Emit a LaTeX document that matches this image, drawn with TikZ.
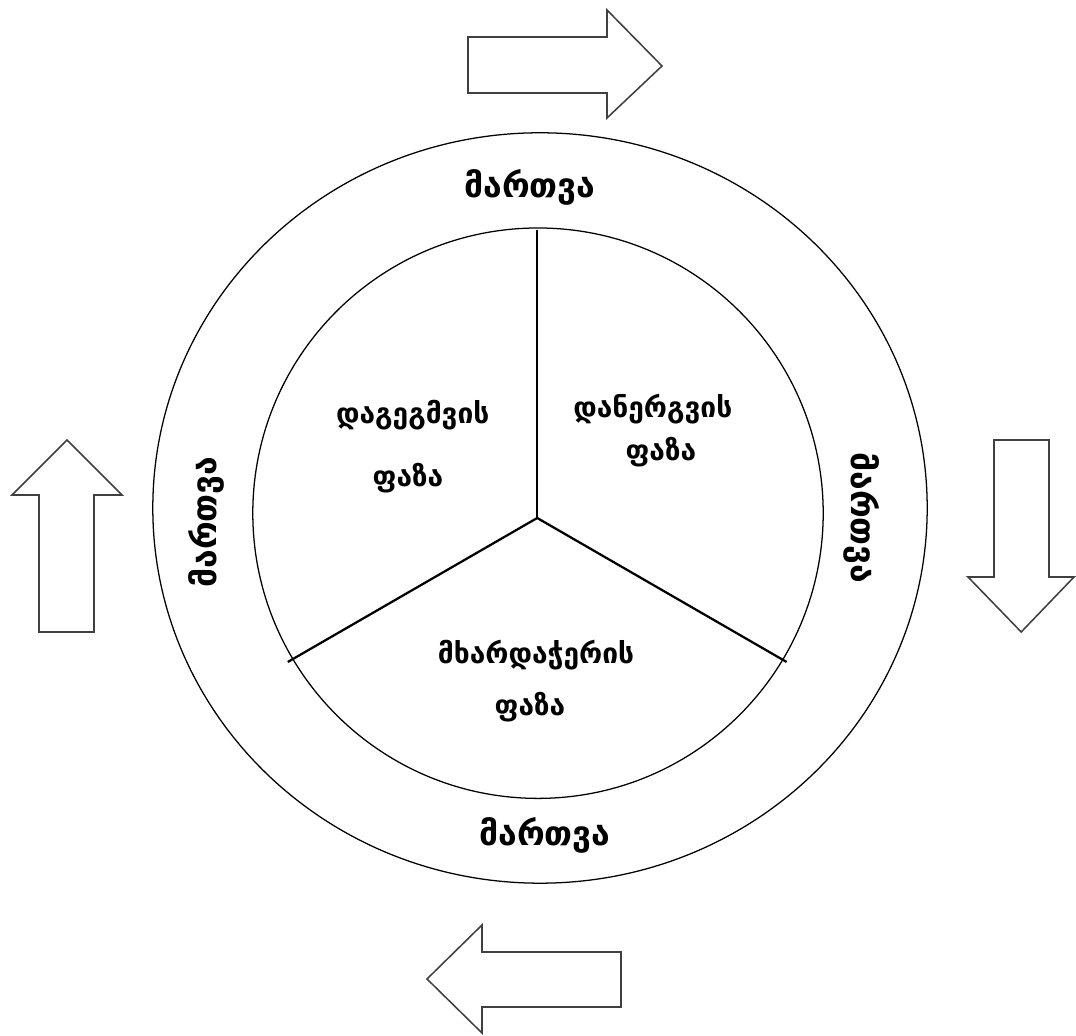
\documentclass[tikz,border=0pt]{standalone}
\usepackage{fontspec}
\setmainfont{DejaVu Sans}
\usepackage{tikz}
\usetikzlibrary{calc}

\begin{document}
\begin{tikzpicture}[
    rim/.style={draw, line width=.9pt},
    spoke/.style={draw, line width=1.6pt},
    hollowarrow/.style={draw=black!75, line width=1.1pt, line join=miter, fill=white},
    manage/.style={font=\bfseries\fontsize{24}{30}\selectfont, inner sep=0pt},
    phase/.style={font=\bfseries\fontsize{20}{24}\selectfont, inner sep=0pt}]
  \useasboundingbox (0, 0) rectangle (26.9, 25.9);
  % rings
  \draw [rim] (13.5, 13.2) ellipse [x radius=9.68, y radius=9.38];
  \draw [rim] (13.45, 13.07) circle [radius=7.13];
  % spokes
  \coordinate (hub) at (13.43, 12.95);
  \coordinate (up) at ($(hub) + (90:7.2)$);
  \coordinate (lw) at ($(hub) + (210:7.2)$);
  \coordinate (rw) at ($(hub) + (330:7.2)$);
  \draw [spoke] (hub) -- (up);
  \draw [spoke] (hub) -- (lw);
  \draw [spoke] (hub) -- (rw);
  % labels
  \node [manage] (mtop) at (13.25, 21.22) {მართვა};
  \node [manage] (mbot) at (13.62, 5.02) {მართვა};
  \node [manage, rotate=90] (mleft) at (5.17, 12.85) {მართვა};
  \node [manage, rotate=-90] (mright) at (21.55, 12.95) {მართვა};
  \node [phase] (plan) at (10.32, 15.52) {დაგეგმვის};
  \node [phase] (planb) at (10.2, 13.95) {ფაზა};
  \node [phase] (impl) at (16.32, 15.67) {დანერგვის};
  \node [phase] (implb) at (16.52, 14.6) {ფაზა};
  \node [phase] (supp) at (13.4, 9.52) {მხარდაჭერის};
  \node [phase] (suppb) at (13.25, 8.22) {ფაზა};
  % cycle arrows
  \draw [hollowarrow] (11.7, 24.975) -- (15.175, 24.975) -- (15.175, 25.65) -- (16.55, 24.25)
    -- (15.175, 22.95) -- (15.175, 23.575) -- (11.7, 23.575) -- cycle;
  \draw [hollowarrow] (24.85, 14.9) -- (26.225, 14.9) -- (26.225, 11.475) -- (26.85, 11.475)
    -- (25.53, 10.1) -- (24.2, 11.475) -- (24.85, 11.475) -- cycle;
  \draw [hollowarrow] (15.525, 2.1) -- (12.05, 2.1) -- (12.05, 2.775) -- (10.675, 1.425)
    -- (12.05, 0.075) -- (12.05, 0.725) -- (15.525, 0.725) -- cycle;
  \draw [hollowarrow] (0.975, 10.1) -- (0.975, 13.525) -- (0.3, 13.525) -- (1.675, 14.9)
    -- (3.05, 13.525) -- (2.35, 13.525) -- (2.35, 10.1) -- cycle;
\end{tikzpicture}
\end{document}
